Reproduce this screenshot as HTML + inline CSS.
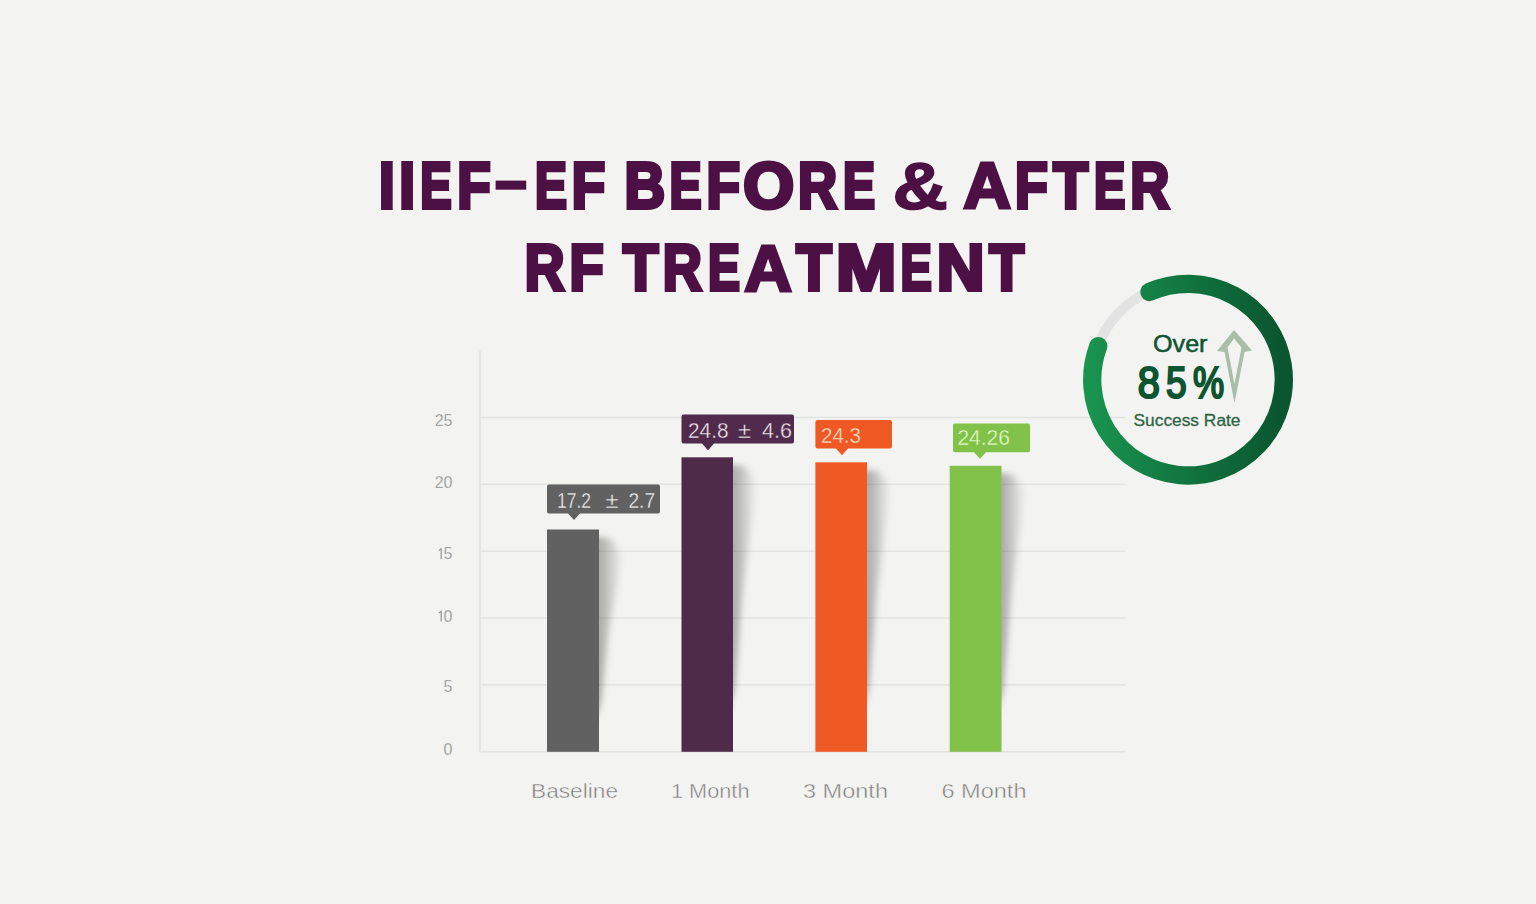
<!DOCTYPE html>
<html>
<head>
<meta charset="utf-8">
<style>
html,body{margin:0;padding:0;background:#f3f3f1;width:1536px;height:904px;overflow:hidden;}
svg{display:block;}
text{font-family:"Liberation Sans",sans-serif;}
</style>
</head>
<body>
<svg width="1536" height="904" viewBox="0 0 1536 904">
<defs>
  <filter id="blur" x="-50%" y="-20%" width="200%" height="140%"><feGaussianBlur stdDeviation="3"/></filter>
  <linearGradient id="shg" x1="0" y1="0" x2="1" y2="0"><stop offset="0.2" stop-color="#000" stop-opacity="0.3"/><stop offset="1" stop-color="#000" stop-opacity="0"/></linearGradient>
  <linearGradient id="ring" gradientUnits="userSpaceOnUse" x1="1090" y1="380" x2="1280" y2="380">
    <stop offset="0" stop-color="#19944f"/>
    <stop offset="1" stop-color="#0a5630"/>
  </linearGradient>
</defs>
<rect width="1536" height="904" fill="#f3f3f1"/>

<!-- Title -->
<g fill="#4c1045" stroke="#4c1045" stroke-width="4" stroke-linejoin="miter" font-weight="bold" font-size="64">
  <text transform="matrix(0.8851 0 0 1.0000 379.08 207.50)">I</text>
  <text transform="matrix(0.8851 0 0 1.0000 399.28 207.50)">I</text>
  <text transform="matrix(0.7367 0 0 1.0000 420.32 207.50)">E</text>
  <text transform="matrix(0.8555 0 0 1.0000 457.25 207.50)">F</text>
  <text transform="matrix(0.7493 0 0 1.0000 534.99 207.50)">E</text>
  <text transform="matrix(0.8555 0 0 1.0000 571.75 207.50)">F</text>
  <text transform="matrix(0.8784 0 0 1.0000 624.40 207.50)">B</text>
  <text transform="matrix(0.7518 0 0 1.0000 669.59 207.50)">E</text>
  <text transform="matrix(0.8583 0 0 1.0000 706.44 207.50)">F</text>
  <text transform="matrix(1.0213 0 0 1.0000 743.26 207.50)">O</text>
  <text transform="matrix(0.8471 0 0 1.0000 797.97 207.50)">R</text>
  <text transform="matrix(0.7518 0 0 1.0000 843.09 207.50)">E</text>
  <text stroke-width="1.5" transform="matrix(1.1980 0 0 1.0549 892.53 208.71)">&amp;</text>
  <text stroke-width="3.0" transform="matrix(1.0362 0 0 1.0213 963.20 207.97)">A</text>
  <text transform="matrix(0.8391 0 0 1.0000 1014.99 207.50)">F</text>
  <text transform="matrix(0.8924 0 0 1.0000 1053.14 207.50)">T</text>
  <text transform="matrix(0.7342 0 0 1.0000 1094.03 207.50)">E</text>
  <text transform="matrix(0.8471 0 0 1.0000 1130.27 207.50)">R</text>
  <text transform="matrix(0.8605 0 0 1.0000 524.74 290.10)">R</text>
  <text transform="matrix(0.8747 0 0 1.0000 569.60 290.10)">F</text>
  <text transform="matrix(0.9043 0 0 1.0000 622.96 290.10)">T</text>
  <text transform="matrix(0.8471 0 0 1.0000 662.77 290.10)">R</text>
  <text transform="matrix(0.7493 0 0 1.0000 708.09 290.10)">E</text>
  <text stroke-width="3.0" transform="matrix(1.0340 0 0 1.0213 744.20 290.57)">A</text>
  <text transform="matrix(0.9067 0 0 1.0000 796.16 290.10)">T</text>
  <text transform="matrix(1.1303 0 0 1.0000 836.12 290.10)">M</text>
  <text transform="matrix(0.7342 0 0 1.0000 900.43 290.10)">E</text>
  <text transform="matrix(1.0330 0 0 1.0000 936.84 290.10)">N</text>
  <text transform="matrix(0.8900 0 0 1.0000 989.14 290.10)">T</text>
  <rect x="495.6" y="180.6" width="30.6" height="9.1" stroke="none"/>
</g>

<!-- Grid -->
<g stroke="#e3e3e2" stroke-width="1.6" fill="none">
  <line x1="480" y1="351" x2="480" y2="752"/>
  <line x1="480" y1="417.5" x2="1125" y2="417.5"/>
  <line x1="480" y1="484.3" x2="1125" y2="484.3"/>
  <line x1="480" y1="551.2" x2="1125" y2="551.2"/>
  <line x1="480" y1="618" x2="1125" y2="618"/>
  <line x1="480" y1="684.9" x2="1125" y2="684.9"/>
  <line x1="480" y1="751.8" x2="1125" y2="751.8"/>
</g>

<!-- Y labels -->
<g fill="#808080" font-size="16" text-anchor="end" stroke="#f3f3f1" stroke-width="0.35">
  <text x="452.5" y="426">25</text>
  <text x="452.5" y="488">20</text>
  <text x="452.5" y="559">5</text>
  <text x="452.5" y="621.5">0</text>
  <text x="452.5" y="692">5</text>
  <text x="452.5" y="755">0</text>
</g>

<path d="M438.8,550.6 L441.2,548.6 V559 M438.8,613.1 L441.2,611.1 V621.5" fill="none" stroke="#939393" stroke-width="1.2" stroke-linejoin="round"/>

<!-- Shadows -->
<g fill="url(#shg)" filter="url(#blur)">
  <polygon points="593.0,536.5 611.0,538.5 623.0,555.5 609.0,629.5 601.0,702.9 593.0,725.1"/>
  <polygon points="727.0,464.3 745.0,466.3 757.0,483.3 743.0,589.8 735.0,687.0 727.0,716.5"/>
  <polygon points="861.0,469.3 879.0,471.3 891.0,488.3 877.0,592.6 869.0,688.1 861.0,717.1"/>
  <polygon points="995.5,472.8 1013.5,474.8 1025.5,491.8 1011.5,594.5 1003.5,688.9 995.5,717.5"/>
</g>

<!-- Bars -->
<rect x="547" y="529.5" width="52" height="222.3" fill="#616161"/>
<rect x="681.5" y="457.3" width="51.5" height="294.5" fill="#4f2b4a"/>
<rect x="815.4" y="462.3" width="51.6" height="289.5" fill="#ef5a24"/>
<rect x="949.7" y="465.8" width="51.8" height="286" fill="#82c14a"/>

<!-- Label boxes -->
<path d="M549,484.5 H658 Q660,484.5 660,486.5 V511.5 Q660,513.5 658,513.5 H580 L574,520 L568,513.5 H549 Q547,513.5 547,511.5 V486.5 Q547,484.5 549,484.5 Z" fill="#616161"/>
<path d="M683.5,414.4 H792 Q794,414.4 794,416.4 V441.5 Q794,443.5 792,443.5 H714 L708,450.3 L702,443.5 H683.5 Q681.5,443.5 681.5,441.5 V416.4 Q681.5,414.4 683.5,414.4 Z" fill="#512b4b"/>
<path d="M817.4,420 H890 Q892,420 892,422 V446.5 Q892,448.5 890,448.5 H848 L842,455.3 L836,448.5 H817.4 Q815.4,448.5 815.4,446.5 V422 Q815.4,420 817.4,420 Z" fill="#ef5a24"/>
<path d="M955,423.4 H1028 Q1030,423.4 1030,425.4 V450.3 Q1030,452.3 1028,452.3 H986 L980,458.8 L974,452.3 H955 Q953,452.3 953,450.3 V425.4 Q953,423.4 955,423.4 Z" fill="#82c14a"/>

<!-- Label texts -->
<g font-size="21.5">
  <g fill="#f2f2f2" stroke="#616161" stroke-width="0.35">
    <text x="557" y="507.8" textLength="34" lengthAdjust="spacingAndGlyphs">17.2</text>
    <text x="605.5" y="507.8" textLength="13" lengthAdjust="spacingAndGlyphs">±</text>
    <text x="628.5" y="507.8" textLength="26.5" lengthAdjust="spacingAndGlyphs">2.7</text>
  </g>
  <g fill="#f2e6f0" stroke="#512b4b" stroke-width="0.35">
    <text x="688" y="437.8" textLength="40.5" lengthAdjust="spacingAndGlyphs">24.8</text>
    <text x="738" y="437.8" textLength="13" lengthAdjust="spacingAndGlyphs">±</text>
    <text x="762" y="437.8" textLength="30" lengthAdjust="spacingAndGlyphs">4.6</text>
  </g>
  <text fill="#fde0cc" stroke="#ef5a24" stroke-width="0.35" x="821" y="442.8" textLength="40" lengthAdjust="spacingAndGlyphs">24.3</text>
  <text fill="#e2ffc4" stroke="#82c14a" stroke-width="0.35" x="957.4" y="445.4" textLength="52.5" lengthAdjust="spacingAndGlyphs">24.26</text>
</g>

<!-- X labels -->
<g fill="#7e7e7e" font-size="21" stroke="#f3f3f1" stroke-width="0.45">
  <text x="531" y="797.5" textLength="87" lengthAdjust="spacingAndGlyphs">Baseline</text>
  <text x="671" y="797.5" textLength="78.5" lengthAdjust="spacingAndGlyphs">1 Month</text>
  <text x="803" y="797.5" textLength="85" lengthAdjust="spacingAndGlyphs">3 Month</text>
  <text x="941.5" y="797.5" textLength="85" lengthAdjust="spacingAndGlyphs">6 Month</text>
</g>

<!-- Ring -->
<path d="M1097.80,345.98 A96.3,96.3 0 0 1 1149.29,291.52" fill="none" stroke="#e3e3e3" stroke-width="10"/>
<path d="M1149.49,291.98 A95.8,95.8 0 1 1 1098.27,346.15" fill="none" stroke="url(#ring)" stroke-width="18.3" stroke-linecap="round"/>

<text x="1153" y="351.6" font-size="23" fill="#0d5430" stroke="#0d5430" stroke-width="0.5" textLength="54.5" lengthAdjust="spacingAndGlyphs">Over</text>
<g fill="#0d5430" stroke="#0d5430" stroke-width="2.2" font-size="44">
  <text transform="matrix(0.9060 0 0 1 1137.76 397.8)">8</text>
  <text transform="matrix(0.8456 0 0 1 1165.94 397.8)">5</text>
  <text transform="matrix(0.7961 0 0 1 1192.93 397.8)">%</text>
</g>
<text x="1133.5" y="426" font-size="16.5" fill="#2f6345" stroke="#2f6345" stroke-width="0.3" textLength="107" lengthAdjust="spacingAndGlyphs">Success Rate</text>

<path fill="#a9bfa9" fill-rule="evenodd" d="M1234,330 L1252,350.5 L1244.5,352 L1234.5,403 L1224.5,352 L1217,351 Z M1234,338.5 L1227.5,347.5 L1234.5,384 L1241.5,347.5 Z"/>
</svg>
</body>
</html>
